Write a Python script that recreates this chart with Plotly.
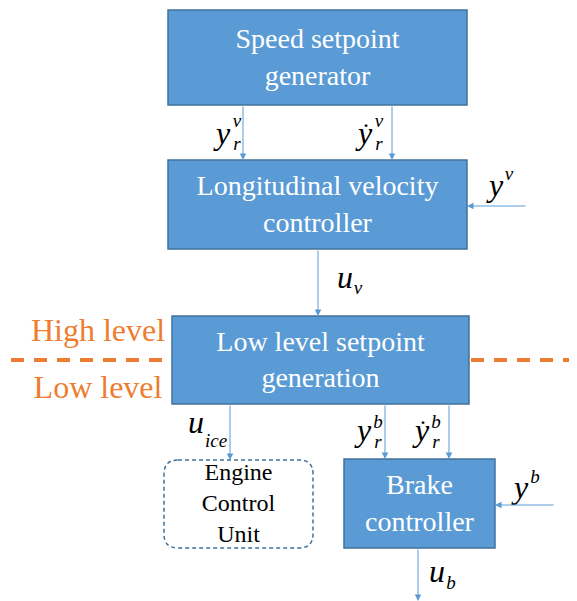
import plotly.graph_objects as go

# block labels
BOX_TEXT = ['Speed setpoint<br>generator',
            'Longitudinal velocity<br>controller',
            'Low level setpoint<br>generation',
            'Brake<br>controller']
ECU_TEXT = 'Engine<br>Control<br>Unit'
LEVEL_TEXT = ['High level', 'Low level']

# signal symbols: (base, superscript, subscript, dotted)
SIGNALS = [('y', 'v', 'r', False), ('y', 'v', 'r', True), ('y', 'v', '', False),
           ('u', '', 'v', False), ('u', '', 'ice', False),
           ('y', 'b', 'r', False), ('y', 'b', 'r', True), ('y', 'b', '', False),
           ('u', '', 'b', False)]

BLUE = '#5B9BD5'
EDGE = '#41719C'
ORANGE = '#ED7D31'
FONT = 'Liberation Serif'

# layout of the blocks (x0, y0, x1, y1) in pixels
box_pos = [(168, 10, 467, 105), (168, 160, 467, 249), (172, 316, 469, 404), (344, 459, 495, 548)]
ecu_pos = (164, 460, 313, 548)
level_pos = [(98, 333), (98, 390)]
# arrows: (tip x, tip y, tail x, tail y)
arrows = [(243, 160, 243, 105), (392, 160, 392, 105), (467, 206, 527, 206),
          (318, 316, 318, 249), (230, 460, 230, 404), (385, 459, 385, 404),
          (449, 459, 449, 404), (495, 505, 555, 505), (418, 601, 418, 548)]
# symbol anchors: base (x, y), script x, sup y, sub y
sym_pos = [(223, 136, 237, 122, 145), (365, 136, 379, 122, 145), (496, 188, 509, 175, 0),
           (345, 280, 358, 0, 289), (196, 425, 216, 0, 442), (364, 433, 378, 423, 443),
           (422, 433, 436, 423, 443), (521, 490, 535, 478, 0), (437, 574, 451, 0, 584)]

fig = go.Figure()
shapes = []
annotations = []

def add_text(xs, ys, texts, size, color, style='normal'):
  fig.add_trace(go.Scatter(x=xs, y=ys, text=texts, mode='text', textposition='middle center',
                           hoverinfo='skip', cliponaxis=False,
                           textfont=dict(family=FONT, size=size, color=color, style=style)))

for (x0, y0, x1, y1) in box_pos:
  shapes.append(dict(type='rect', x0=x0, y0=y0, x1=x1, y1=y1, fillcolor=BLUE,
                     line=dict(color=EDGE, width=1.5), layer='below'))

#Rounded dashed box for the ECU
x0, y0, x1, y1 = ecu_pos
r = 14
path = (f'M {x0+r},{y0} L {x1-r},{y0} Q {x1},{y0} {x1},{y0+r} L {x1},{y1-r} Q {x1},{y1} {x1-r},{y1} '
        f'L {x0+r},{y1} Q {x0},{y1} {x0},{y1-r} L {x0},{y0+r} Q {x0},{y0} {x0+r},{y0} Z')
shapes.append(dict(type='path', path=path, line=dict(color=EDGE, width=1.5, dash='4px,3px'), layer='below'))

#High/low level split, under the blocks
shapes.insert(0, dict(type='line', x0=11, x1=577, y0=360, y1=360, layer='below',
                      line=dict(color=ORANGE, width=4, dash='13px,10px')))

add_text([(b[0] + b[2]) / 2 for b in box_pos], [(b[1] + b[3]) / 2 + 2 for b in box_pos], BOX_TEXT, 28, 'white')
add_text([(x0 + x1) / 2], [(y0 + y1) / 2 + 1], [ECU_TEXT], 24, 'black')
add_text([p[0] for p in level_pos], [p[1] for p in level_pos], LEVEL_TEXT, 32, ORANGE)

for tx, ty, sx, sy in arrows:
  annotations.append(dict(x=tx, y=ty, ax=sx, ay=sy, xref='x', yref='y', axref='x', ayref='y',
                          text='', showarrow=True, arrowhead=2, arrowsize=1.3, arrowwidth=1,
                          arrowcolor=BLUE, standoff=0))

#Signal symbols
add_text([p[0] for p in sym_pos], [p[1] for p in sym_pos], [s[0] for s in SIGNALS], 32, 'black', 'italic')
dots = [(p[0] + 1, p[1] - 15) for s, p in zip(SIGNALS, sym_pos) if s[3]]
add_text([d[0] for d in dots], [d[1] for d in dots], ['.'] * len(dots), 24, 'black')
sups = [(s[1], p[2], p[3]) for s, p in zip(SIGNALS, sym_pos) if s[1]]
add_text([s[1] for s in sups], [s[2] for s in sups], [s[0] for s in sups], 19, 'black', 'italic')
subs = [(s[2], p[2], p[4]) for s, p in zip(SIGNALS, sym_pos) if s[2]]
add_text([s[1] for s in subs], [s[2] for s in subs], [s[0] for s in subs], 19, 'black', 'italic')

#The page body has an 8px margin, so the figure is shrunk by 8px and the ranges start at 8
fig.update_layout(width=569, height=593, margin=dict(l=0, r=0, t=0, b=0),
                  font=dict(family=FONT),
                  plot_bgcolor='white', paper_bgcolor='white', showlegend=False,
                  shapes=shapes, annotations=annotations,
                  xaxis=dict(range=[8, 577], visible=False, fixedrange=True),
                  yaxis=dict(range=[601, 8], visible=False, fixedrange=True))
fig.write_html('out.html')
